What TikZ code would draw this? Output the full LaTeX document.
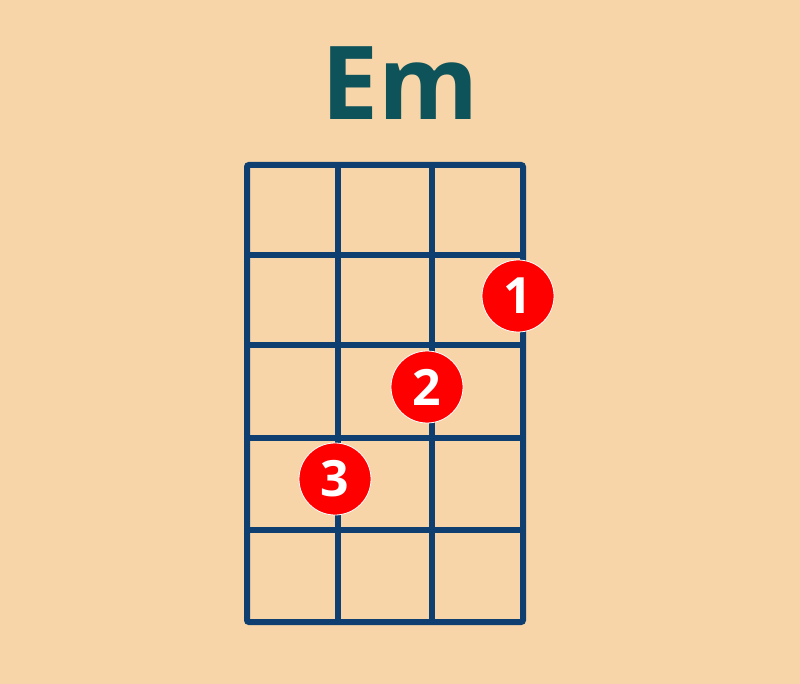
\documentclass[tikz,border=0pt]{standalone}
\usepackage{fontspec}
\setmainfont{Open Sans}
\usetikzlibrary{positioning}
\definecolor{peach}{HTML}{F8D5A8}
\definecolor{chordteal}{HTML}{0E525A}
\definecolor{fretblue}{HTML}{0E3F70}
\definecolor{dotred}{HTML}{FF0000}

\begin{document}
\begin{tikzpicture}[x=1pt, y=-1pt,
    fretline/.style={draw=fretblue, line width=6pt},
    finger/.style={circle, fill=dotred, draw=white, line width=0.8pt, minimum size=72pt, inner sep=0pt,
        text=white, font=\fontsize{50}{50}\selectfont\bfseries},
    title/.style={text=chordteal, font=\fontsize{102}{110}\selectfont\bfseries}
]
\fill[peach] (0,0) rectangle (800,684);
\useasboundingbox (0,0) rectangle (800,684);
\node[title, anchor=base] (chord) at (400,120) {Em};
% fretboard
\draw[fretline, rounded corners=2pt] (247,165) rectangle (523,622);
\foreach \x in {338,432}
    \draw[fretline] (\x,165) -- (\x,622);
\foreach \y in {255,345,438,530}
    \draw[fretline] (247,\y) -- (523,\y);
% fingers
\node[finger] (one) at (518,296) {1};
\node[finger] (two) at (427,387) {2};
\node[finger] (three) at (335,479) {3};
\end{tikzpicture}
\end{document}
